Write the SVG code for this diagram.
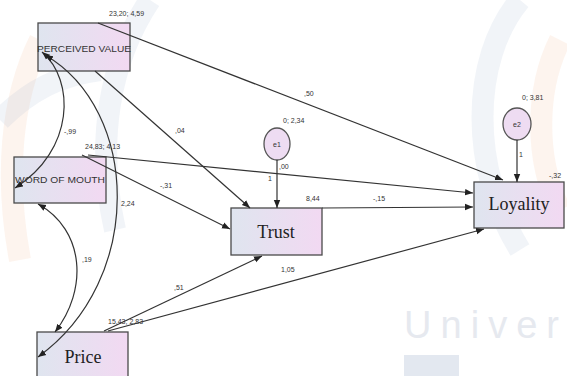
<svg xmlns="http://www.w3.org/2000/svg" width="567" height="376" viewBox="0 0 567 376">
<style>
.box{stroke:#4a4a4a;stroke-width:1.3;fill:url(#g)}
.ell{stroke:#555;stroke-width:1.3;fill:#eedcf2}
.ln{stroke:#333;stroke-width:1.2;fill:none}
.lb{font-family:"Liberation Sans",Arial,sans-serif;font-size:7px;fill:#333}
.sm{font-family:"Liberation Sans",Arial,sans-serif;font-size:9px;fill:#333}
.big{font-family:"Liberation Serif","Times New Roman",serif;font-size:18px;fill:#222}
.wm{fill:none;stroke-width:22;opacity:0.14}
</style>
<defs>
<linearGradient id="g" x1="0" y1="0" x2="1" y2="0">
<stop offset="0" stop-color="#dfe5ef"/>
<stop offset="1" stop-color="#f2d9f2"/>
</linearGradient>
<marker id="a" viewBox="0 0 10 10" refX="10" refY="5" markerWidth="8" markerHeight="8" markerUnits="userSpaceOnUse" orient="auto-start-reverse">
<path d="M0,1 L10,5 L0,9 z" fill="#222"/>
</marker>
</defs>
<rect width="567" height="376" fill="#fff"/>
<g id="watermark">
<path class="wm" d="M150,0 C110,60 95,140 115,230" stroke="#9fb2cf"/>
<path class="wm" d="M40,40 C10,100 5,180 20,260" stroke="#f1b08a"/>
<path class="wm" d="M0,120 C30,90 60,75 100,70" stroke="#9fb2cf"/>
<path class="wm" d="M520,0 C470,60 470,170 520,250" stroke="#9fb2cf"/>
<path class="wm" d="M560,40 C535,90 535,160 560,210" stroke="#f1b08a"/>
<text x="404" y="338" font-family="Liberation Sans,Arial,sans-serif" font-size="38" textLength="155" lengthAdjust="spacing" fill="#e6e9ef">Univer</text>
<rect x="404" y="355" width="55" height="21" fill="#e3e8f0"/>
</g>
<g id="pv">
<rect class="box" x="38" y="23" width="92" height="48"/>
<text class="sm" x="84" y="52" text-anchor="middle" textLength="94" lengthAdjust="spacingAndGlyphs">PERCEIVED VALUE</text>
<text class="lb" x="109" y="16">23,20; 4,59</text>
</g>
<g id="wom">
<rect class="box" x="14" y="157" width="92" height="46"/>
<text class="sm" x="60" y="183" text-anchor="middle" textLength="90" lengthAdjust="spacingAndGlyphs">WORD OF MOUTH</text>
<text class="lb" x="85" y="149">24,83; 4,13</text>
</g>
<g id="price">
<rect class="box" x="37" y="332" width="91" height="50"/>
<text class="big" x="83" y="363" text-anchor="middle">Price</text>
<text class="lb" x="108" y="324">15,43; 2,83</text>
</g>
<g id="trust">
<rect class="box" x="231" y="208" width="91" height="47"/>
<text class="big" x="276" y="238" text-anchor="middle">Trust</text>
<text class="lb" x="306" y="201">8,44</text>
</g>
<g id="loyality">
<rect class="box" x="474" y="182" width="90" height="46"/>
<text class="big" x="519" y="210" text-anchor="middle">Loyality</text>
<text class="lb" x="549" y="178">-,32</text>
</g>
<g id="e1">
<ellipse class="ell" cx="277" cy="144" rx="13" ry="16"/>
<text class="lb" x="277" y="147" text-anchor="middle">e1</text>
<text class="lb" x="283" y="123">0; 2,34</text>
</g>
<g id="e2">
<ellipse class="ell" cx="517" cy="124" rx="14" ry="16"/>
<text class="lb" x="517" y="127" text-anchor="middle">e2</text>
<text class="lb" x="522" y="100">0; 3,81</text>
</g>
<g id="connectors">
<path class="ln" d="M98,23 L503,180" marker-end="url(#a)"/>
<path class="ln" d="M95,71 L250,208" marker-end="url(#a)"/>
<path class="ln" d="M88,155 L473,193" marker-end="url(#a)"/>
<path class="ln" d="M82,155 L230,229" marker-end="url(#a)"/>
<path class="ln" d="M277,160 L277,208" marker-end="url(#a)"/>
<path class="ln" d="M322,208 L473,207" marker-end="url(#a)"/>
<path class="ln" d="M104,331 L262,256" marker-end="url(#a)"/>
<path class="ln" d="M108,331 L484,229" marker-end="url(#a)"/>
<path class="ln" d="M517,140 L517,182" marker-end="url(#a)"/>
<path class="ln" d="M42,52 C75,80 75,150 15,188" marker-start="url(#a)" marker-end="url(#a)"/>
<path class="ln" d="M38,204 C85,230 88,290 55,332" marker-start="url(#a)" marker-end="url(#a)"/>
<path class="ln" d="M45,55 C140,110 145,280 38,357" marker-start="url(#a)" marker-end="url(#a)"/>
<text class="lb" x="304" y="96">,50</text>
<text class="lb" x="175" y="133">,04</text>
<text class="lb" x="64" y="134">-,99</text>
<text class="lb" x="160" y="188">-,31</text>
<text class="lb" x="121" y="206">2,24</text>
<text class="lb" x="82" y="262">,19</text>
<text class="lb" x="174" y="290">,51</text>
<text class="lb" x="281" y="272">1,05</text>
<text class="lb" x="373" y="201">-,15</text>
<text class="lb" x="279" y="169">,00</text>
<text class="lb" x="268" y="181">1</text>
<text class="lb" x="519" y="157">1</text>
</g>
</svg>
